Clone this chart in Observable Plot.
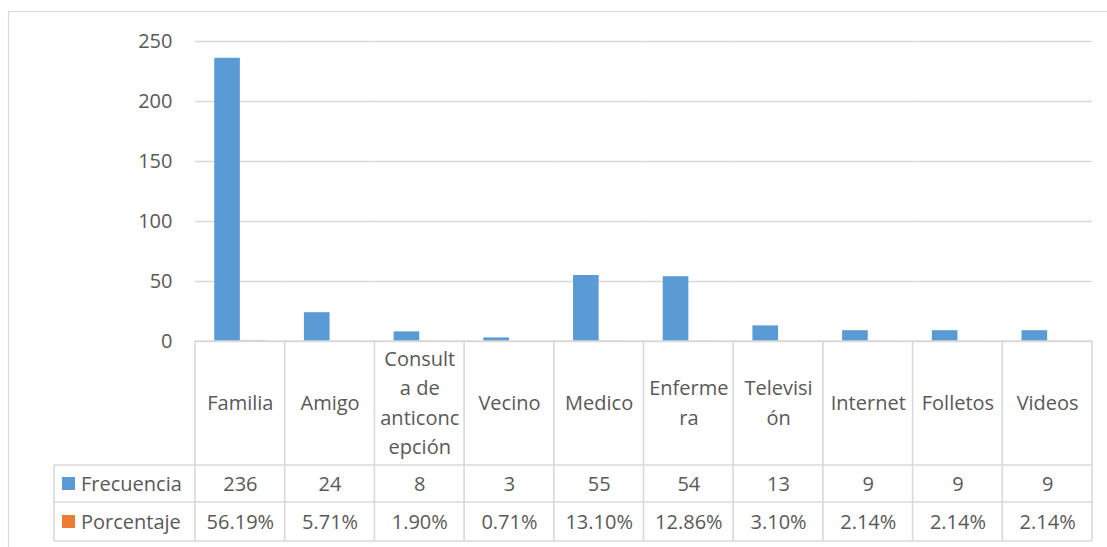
<!DOCTYPE html>
<html><head><meta charset="utf-8">
<script src="https://cdn.jsdelivr.net/npm/d3@7"></script>
<script src="https://cdn.jsdelivr.net/npm/@observablehq/plot@0.6"></script>
<style>body{margin:0;background:#fff} #chart svg{display:block}</style>
</head><body><div id="chart"></div>
<script>
const categories = ["Familia","Amigo","Consulta de anticoncepción","Vecino","Medico","Enfermera","Televisión","Internet","Folletos","Videos"];
const categoryLabels = ["Familia","Amigo","Consult\na de\nanticonc\nepción","Vecino","Medico","Enferme\nra","Televisi\nón","Internet","Folletos","Videos"];
const frecuencia = [236,24,8,3,55,54,13,9,9,9];
const porcentaje = [0.5619,0.0571,0.0190,0.0071,0.1310,0.1286,0.0310,0.0214,0.0214,0.0214];
const seriesNames = ["Frecuencia","Porcentaje"];
const seriesColors = ["#5b9bd5","#ed7d31"];
const yTicks = [0,50,100,150,200,250];

const FONT = "'Open Sans', sans-serif";
const FS = 20;
const TXT = "#595959";
const LINE = "#d9d9d9";

const rows = [];
categories.forEach((c,i)=>{
  rows.push({cat:c, series:seriesNames[0], value:frecuencia[i]});
  rows.push({cat:c, series:seriesNames[1], value:porcentaje[i]});
});
const labelRows = categories.map((c,i)=>({
  cat:c, label:categoryLabels[i], frec:String(frecuencia[i]),
  pct:(porcentaje[i]*100).toFixed(2)+"%"
}));

const chart = Plot.plot({
  width:1107, height:547,
  marginLeft:195, marginRight:15, marginTop:41, marginBottom:206,
  style:{fontFamily:FONT, fontSize:FS+"px", color:TXT, background:"transparent", overflow:"visible"},
  fx:{domain:categories, padding:0, round:false, axis:null, label:null},
  x:{domain:seriesNames, paddingInner:0, paddingOuter:0.75, round:false, axis:null},
  y:{domain:[0,250], label:null},
  color:{domain:seriesNames, range:seriesColors},
  marks:[
    Plot.gridY(yTicks,{stroke:LINE, strokeOpacity:1, strokeWidth:1.3}),
    Plot.axisY(yTicks,{tickSize:0, tickPadding:23, fontSize:FS, fill:TXT, label:null}),
    Plot.barY(rows,{fx:"cat", x:"series", y:"value", fill:"series"}),
    Plot.text(labelRows,{fx:"cat", text:"label", frameAnchor:"bottom", lineAnchor:"middle", dy:59, lineHeight:1.47, fill:TXT, fontSize:FS}),
    Plot.text(labelRows,{fx:"cat", text:"frec", frameAnchor:"bottom", lineAnchor:"middle", dy:143, fill:TXT, fontSize:FS}),
    Plot.text(labelRows,{fx:"cat", text:"pct", frameAnchor:"bottom", lineAnchor:"middle", dy:181, fill:TXT, fontSize:FS})
  ]
});
document.getElementById("chart").appendChild(chart);

// Table grid and legend keys, positioned from Plot's own scales
const svg = d3.select(chart);
const fx = chart.scale("fx");
const y = chart.scale("y");
const bw = fx.bandwidth;
let starts = categories.map(c => fx.apply(c));
if (starts[0] < 100) starts = starts.map(s => s + 195);
const left = starts[0], right = starts[starts.length-1] + bw;
const y0 = y.apply(0);
const rowY = [y0 + 124, y0 + 161, y0 + 200];
const legendLeft = 54;
const g = svg.append("g").attr("stroke", LINE).attr("stroke-width", 1.6).attr("fill","none");
g.append("rect").attr("x",8.5).attr("y",11.5).attr("width",1120).attr("height",560).attr("stroke-width",1.2);
starts.concat([right]).forEach(xv => g.append("line").attr("x1",xv).attr("x2",xv).attr("y1",y0).attr("y2",rowY[2]));
g.append("line").attr("x1",legendLeft).attr("x2",legendLeft).attr("y1",rowY[0]).attr("y2",rowY[2]);
rowY.forEach(yv => g.append("line").attr("x1",legendLeft).attr("x2",right).attr("y1",yv).attr("y2",yv));
g.append("line").attr("x1",left).attr("x2",right).attr("y1",y0).attr("y2",y0);
const color = chart.scale("color");
seriesNames.forEach((s,i) => {
  const cy = (rowY[i] + rowY[i+1]) / 2;
  svg.append("rect").attr("x",62).attr("y",cy-6.5).attr("width",13).attr("height",13).attr("fill",color.apply(s));
  svg.append("text").attr("x",81).attr("y",cy).attr("dy","0.35em").attr("fill",TXT)
    .attr("text-anchor","start").attr("font-family",FONT).attr("font-size",FS).text(s);
});
</script>
</body></html>
